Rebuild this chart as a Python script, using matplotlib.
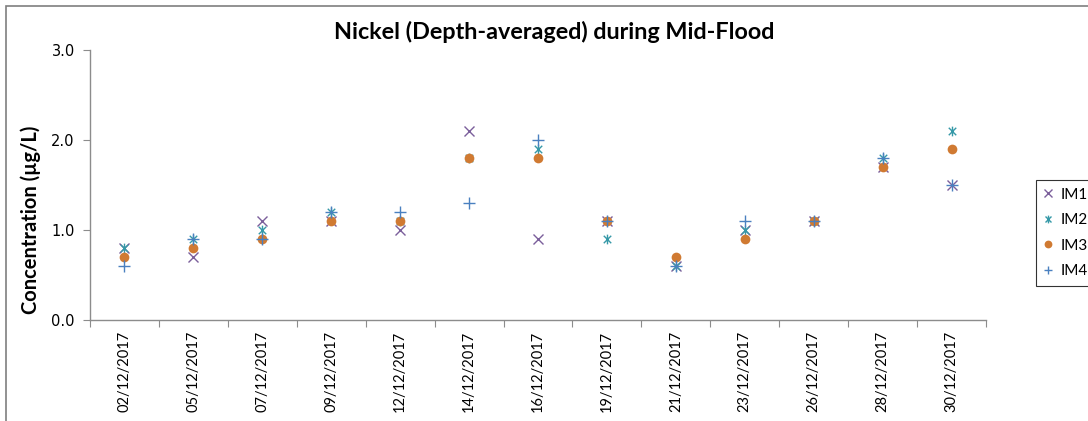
import numpy as np
import matplotlib
matplotlib.use("Agg")
import matplotlib.pyplot as plt
from matplotlib.path import Path
from matplotlib.patches import Rectangle

dates = ["02/12/2017", "05/12/2017", "07/12/2017", "09/12/2017", "12/12/2017",
         "14/12/2017", "16/12/2017", "19/12/2017", "21/12/2017", "23/12/2017",
         "26/12/2017", "28/12/2017", "30/12/2017"]
im1 = [0.8, 0.7, 1.1, 1.1, 1.0, 2.1, 0.9, 1.1, 0.6, 1.0, 1.1, 1.7, 1.5]
im2 = [0.8, 0.9, 1.0, 1.2, 1.1, 1.8, 1.9, 0.9, 0.6, 1.0, 1.1, 1.8, 2.1]
im3 = [0.7, 0.8, 0.9, 1.1, 1.1, 1.8, 1.8, 1.1, 0.7, 0.9, 1.1, 1.7, 1.9]
im4 = [0.6, 0.9, 0.9, 1.2, 1.2, 1.3, 2.0, 1.1, 0.6, 1.1, 1.1, 1.8, 1.5]

# excel style star: an x with a vertical bar through it
star = Path([(-1, -1), (1, 1), (-1, 1), (1, -1), (0, -1.3), (0, 1.3)],
            [Path.MOVETO, Path.LINETO, Path.MOVETO, Path.LINETO, Path.MOVETO, Path.LINETO])

fig = plt.figure(figsize=(10.88, 4.21), dpi=100)
ax = fig.add_axes([90/1088, 1-320/421, (986-90)/1088, 270/421])

x = np.arange(len(dates))
ax.plot(x, im1, ls="none", marker="x", ms=7, mew=1.0, color="#7B5F9B", label="IM1")
ax.plot(x, im2, ls="none", marker=star, ms=7, mew=1.0, color="#3699A8", label="IM2")
ax.plot(x, im3, ls="none", marker="o", ms=7, mew=0, color="#D07A32", label="IM3")
ax.plot(x, im4, ls="none", marker="+", ms=8, mew=1.0, color="#4A80C0", label="IM4")

ax.set_xlim(-0.5, len(dates)-0.5)
ax.set_ylim(0, 3.0)
ax.set_yticks([0, 1, 2, 3])
ax.set_yticklabels(["0.0", "1.0", "2.0", "3.0"], fontsize=10.5, family="DejaVu Sans")
ax.set_xticks(np.arange(-0.5, len(dates), 1.0))
ax.set_xticklabels([])
ax.set_xticks(x, minor=True)
ax.set_xticklabels(dates, minor=True, rotation=90, fontsize=10.5, family="Lato")
ax.tick_params(axis="x", which="minor", length=0, pad=8)
ax.tick_params(axis="x", which="major", length=5, color="#8C8C8C", direction="out")
ax.tick_params(axis="y", length=5, color="#8C8C8C", pad=6)

for s in ["top", "right"]:
    ax.spines[s].set_visible(False)
for s in ["left", "bottom"]:
    ax.spines[s].set_color("#8C8C8C")
    ax.spines[s].set_linewidth(1.0)

fig.text(31/1088, 1-220/421, "Concentration (µg/L)", rotation=90, ha="center", va="center",
         fontsize=14.5, fontweight="bold", family="Lato")
fig.text(554/1088, 1-32/421, "Nickel (Depth-averaged) during Mid-Flood", ha="center", va="center",
         fontsize=16.8, fontweight="bold", family="Lato")

leg = fig.legend(loc="upper left", bbox_to_anchor=(1036/1088, 1-180/421), frameon=True,
                 fancybox=False, edgecolor="#000000", prop={"family": "Lato", "size": 11},
                 handlelength=0.6, handletextpad=0.5, labelspacing=0.75, borderpad=0.5,
                 markerscale=0.8, borderaxespad=0)
leg.get_frame().set_linewidth(0.8)

# outer chart border
fig.patches.append(Rectangle((6/1088, -0.1), 1.2, 1-6/421+0.1, transform=fig.transFigure,
                             fill=False, edgecolor="#7F7F7F", linewidth=1.2))

fig.savefig("out.png", dpi=100)
